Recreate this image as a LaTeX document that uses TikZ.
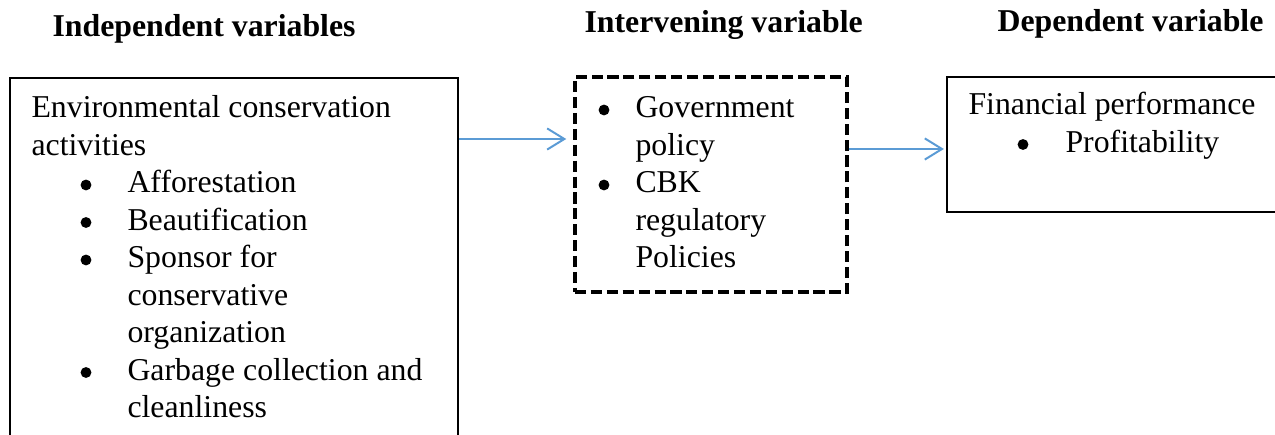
\documentclass[tikz,border=0pt]{standalone}
\usepackage{fontspec}
\setmainfont{Liberation Serif}
\usepackage{tikz}
\usetikzlibrary{positioning,fit,arrows.meta}
\definecolor{arrowblue}{HTML}{5B9BD5}

\begin{document}
\begin{tikzpicture}[x=0.3774pt,y=-0.3774pt,
    head/.style={anchor=base west,inner sep=0pt,font=\fontsize{12}{14}\selectfont\bfseries},
    txt/.style={anchor=base west,inner sep=0pt,font=\fontsize{12}{14}\selectfont},
    dot/.style={circle,fill=black,inner sep=0pt,minimum size=4.1pt},
    box/.style={draw=black,line width=0.75pt,inner sep=0pt},
    dbox/.style={draw=black,line width=1.4pt,dash pattern=on 4.2pt off 1.8pt,inner sep=0pt},
    flow/.style={draw=arrowblue,line width=0.75pt,-{Straight Barb[length=6.5pt,width=8pt]}}]

        \useasboundingbox (0,0) rectangle (1275,435);
        \clip (0,0) rectangle (1275,435);

        \node[head] (hind) at (52,37) {Independent variables};
        \node[head] (hint) at (584,33) {Intervening variable};
        \node[head] (hdep) at (997,32) {Dependent variable};

        \node[box,fit={(10,78) (458,480)}] (indbox) {};
        \node[dbox,fit={(575,77) (847,292)}] (intbox) {};
        \node[box,fit={(947,77) (1300,212)}] (depbox) {};

        \node[txt] (env1) at (31,118) {Environmental conservation};
        \node[txt] (env2) at (31,155.5) {activities};
        \node[dot] (bi1) at (86,185) {};
        \node[txt] (ind1) at (127,193) {Afforestation};
        \node[dot] (bi2) at (86,222.5) {};
        \node[txt] (ind2) at (127,230.5) {Beautification};
        \node[dot] (bi3) at (86,260) {};
        \node[txt] (ind3a) at (127,268) {Sponsor for};
        \node[txt] (ind3b) at (127,305.5) {conservative};
        \node[txt] (ind3c) at (127,343) {organization};
        \node[dot] (bi4) at (86,372.5) {};
        \node[txt] (ind4a) at (127,380.5) {Garbage collection and};
        \node[txt] (ind4b) at (127,418) {cleanliness};

        \node[dot] (bm1) at (604,110) {};
        \node[txt] (int1a) at (635,118) {Government};
        \node[txt] (int1b) at (635,155.5) {policy};
        \node[dot] (bm2) at (604,185) {};
        \node[txt] (int2a) at (635,193) {CBK};
        \node[txt] (int2b) at (635,230.5) {regulatory};
        \node[txt] (int2c) at (635,268) {Policies};

        \node[txt] (fin) at (968,115) {Financial performance};
        \node[dot] (bd1) at (1023,144.5) {};
        \node[txt] (dep1) at (1065,152.5) {Profitability};

        \coordinate (a1) at (0,139);
        \coordinate (a2) at (0,149);
        \draw[flow] (indbox.east |- a1) -- ([xshift=-2.6pt]intbox.west |- a1);
        \draw[flow] (intbox.east |- a2) -- ([xshift=-0.8pt]depbox.west |- a2);
    \end{tikzpicture}
\end{document}
